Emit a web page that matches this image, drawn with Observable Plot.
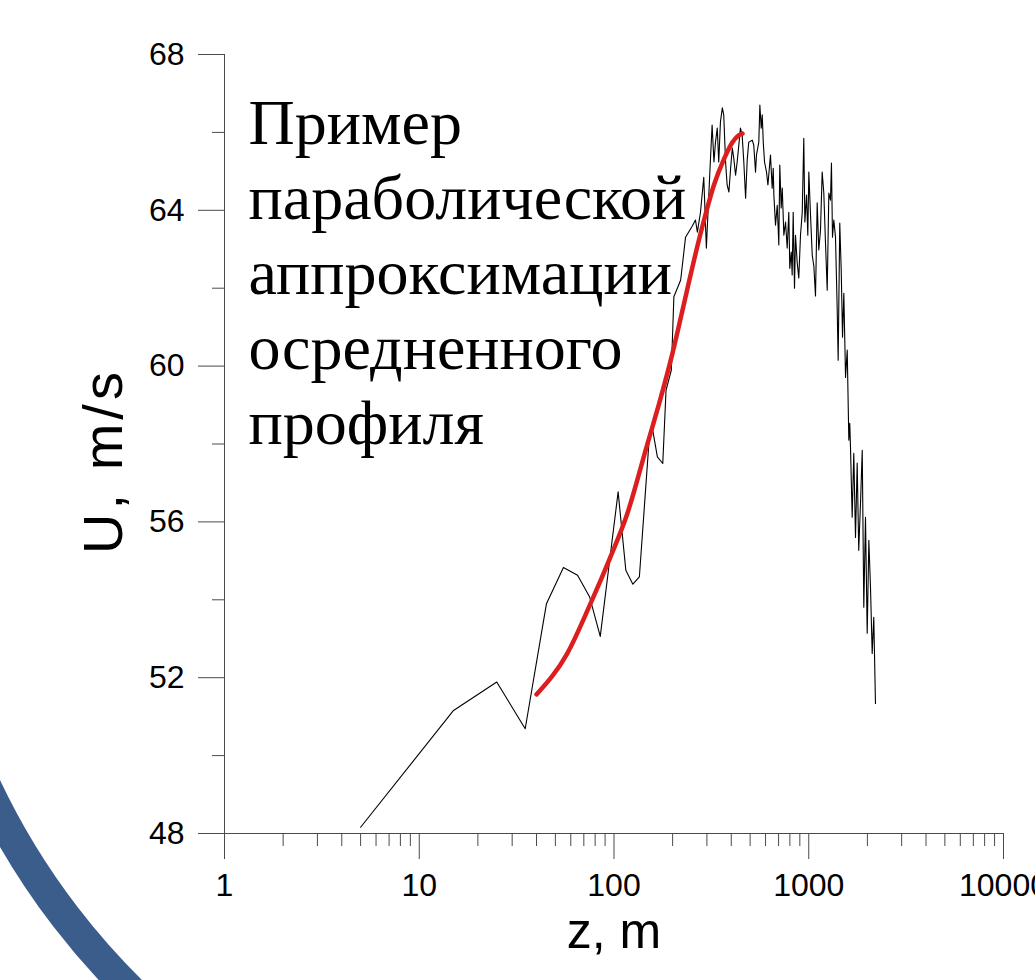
<!DOCTYPE html>
<html>
<head>
<meta charset="utf-8">
<script src="https://cdn.jsdelivr.net/npm/d3@7"></script>
<script src="https://cdn.jsdelivr.net/npm/@observablehq/plot@0.6"></script>
<style>
  html, body { margin: 0; padding: 0; background: #fff; }
  #chart { width: 1035px; height: 980px; overflow: hidden; }
</style>
</head>
<body>
<div id="chart"></div>
<script>
// Averaged wind-speed profile: height z (m) and speed U (m/s)
const zProfile = [
  5, 15, 25, 35, 45, 55, 65, 75, 85, 105,
  115, 125, 135, 151, 157, 167, 178, 185, 197, 203,
  220, 233, 252, 262, 268, 278, 289, 298, 313, 319,
  326, 332, 339, 345, 352, 360, 366, 374, 381, 389,
  397, 405, 412, 421, 429, 446, 455, 464, 474, 483,
  492, 513, 522, 533, 539, 554, 561, 570, 577, 584,
  593, 607, 617, 636, 649, 657, 662, 675, 689, 702,
  710, 722, 731, 745, 760, 775, 790, 799, 813, 822,
  832, 845, 855, 872, 889, 907, 926, 943, 955, 974,
  989, 1001, 1021, 1042, 1062, 1083, 1105, 1126, 1149, 1172,
  1195, 1219, 1244, 1268, 1293, 1308, 1324, 1345, 1372, 1399,
  1416, 1443, 1468, 1491, 1514, 1545, 1576, 1606, 1624, 1638,
  1671, 1703, 1738, 1773, 1806, 1844, 1882, 1917, 1956, 1996,
  2035, 2075, 2117, 2157, 2201
];
const uProfile = [
  48.16, 51.16, 51.89, 50.69, 53.90, 54.83, 54.63, 54.07, 53.06, 56.77,
  54.76, 54.40, 54.59, 58.01, 58.44, 57.67, 57.50, 59.38, 59.90, 61.78,
  62.21, 63.31, 63.59, 63.75, 63.44, 63.95, 64.85, 63.03, 65.34, 66.19,
  65.24, 65.75, 66.11, 65.24, 66.27, 66.63, 66.45, 65.24, 64.65, 64.47,
  65.08, 65.60, 65.34, 64.90, 65.24, 66.11, 65.93, 65.24, 64.31, 65.29,
  65.75, 65.80, 65.67, 64.98, 65.42, 65.75, 66.70, 66.11, 66.45, 65.75,
  65.24, 64.98, 64.65, 65.42, 64.57, 65.08, 64.39, 63.62, 64.13, 63.11,
  65.16, 64.06, 64.57, 63.36, 63.70, 63.03, 63.95, 62.51, 62.93, 62.34,
  63.95, 62.00, 63.36, 62.67, 62.26, 63.36, 63.95, 65.85, 63.70, 64.39,
  63.36, 64.98, 63.88, 62.85, 62.57, 61.80, 64.19, 62.98, 63.49, 64.98,
  64.44, 63.16, 61.95, 64.44, 64.26, 65.21, 63.31, 63.75, 63.31, 61.51,
  60.15, 63.67, 62.46, 60.74, 61.87, 59.71, 60.41, 58.10, 58.53, 57.92,
  56.12, 57.76, 55.60, 57.51, 55.27, 56.48, 57.84, 53.81, 56.12, 53.14,
  55.53, 54.32, 52.62, 53.55, 51.34
];

// Parabolic approximation of the averaged profile
const zFit = [40, 57.5, 75.7, 95.9, 117, 148, 173, 199, 235, 257, 290, 326, 366, 405, 438, 457];
const uFit = [51.57, 52.62, 53.90, 55.10, 56.21, 57.98, 59.15, 60.30, 61.86, 62.70, 63.75, 64.65, 65.30, 65.74, 65.93, 65.97];

// Axis ticks
const xMajor = [1, 10, 100, 1000, 10000];
const xMinor = [2, 3, 4, 5, 6, 7, 8, 9, 20, 30, 40, 50, 60, 70, 80, 90,
                200, 300, 400, 500, 600, 700, 800, 900, 2000, 3000, 4000, 5000, 6000, 7000, 8000, 9000];
const yMajor = [48, 52, 56, 60, 64, 68];
const yMinor = [50, 54, 58, 62, 66];

const noteLines = ["Пример", "параболической", "аппроксимации", "осредненного", "профиля"];

const profile = zProfile.map((z, i) => ({z, u: uProfile[i]}));
const fit = zFit.map((z, i) => ({z, u: uFit[i]}));

const sans = "'Liberation Sans', Arial, sans-serif";
const serif = "'Liberation Serif', 'Times New Roman', serif";
const axisColor = "#4a4a4a";

const chart = Plot.plot({
  width: 1035,
  height: 980,
  marginLeft: 224,
  marginRight: 32,
  marginTop: 54,
  marginBottom: 147,
  style: {fontFamily: sans, background: "#fff", color: "#000", overflow: "hidden"},
  x: {type: "log", domain: [1, 10000]},
  y: {domain: [48, 68]},
  marks: [
    // axis lines
    Plot.ruleX([1], {stroke: axisColor}),
    Plot.ruleY([48], {stroke: axisColor}),
    // ticks and labels
    Plot.axisX({ticks: xMajor, tickSize: 26, tickPadding: 14, fontSize: 32, stroke: axisColor,
      tickFormat: d => String(d), label: null}),
    Plot.axisX({ticks: xMinor, tickSize: 13, stroke: axisColor, tickFormat: () => "", label: null}),
    Plot.axisY({ticks: yMajor, tickSize: 26, tickPadding: 14, fontSize: 32, stroke: axisColor,
      tickFormat: d => String(d), label: null}),
    Plot.axisY({ticks: yMinor, tickSize: 12, stroke: axisColor, tickFormat: () => "", label: null}),
    // averaged profile
    Plot.line(profile, {x: "z", y: "u", stroke: "#000", strokeWidth: 1.1}),
    // parabolic fit
    Plot.line(fit, {x: "z", y: "u", stroke: "#dc1e1e", strokeWidth: 4.5, curve: "monotone-x"}),
    // axis titles
    Plot.text(["z, m"], {text: d => d, frameAnchor: "bottom", dy: 114, fontSize: 50, fontFamily: sans}),
    Plot.text(["U, m/s"], {text: d => d, frameAnchor: "left", textAnchor: "middle", rotate: -90,
      dx: -120, dy: 17, fontSize: 56, fontFamily: sans}),
    // annotation
    Plot.text([noteLines.join("\n")], {text: d => d, frameAnchor: "top-left", textAnchor: "start",
      lineAnchor: "top", dx: 24, dy: 36, fontSize: 64, lineHeight: 1.172, fontFamily: serif, fill: "#000"})
  ]
});

// the vertical axis title is set with a little extra tracking
d3.select(chart).selectAll("text")
  .filter(function() { return this.textContent === "U, m/s"; })
  .style("letter-spacing", "4px");

// slide ornament: a broad blue arc in the lower-left corner
d3.select(chart).insert("path", "g")
  .attr("d", "M -39.4 725.8 A 715 715 0 0 0 222.4 1067")
  .attr("fill", "none")
  .attr("stroke", "#3a5d8c")
  .attr("stroke-width", 31);

document.getElementById("chart").appendChild(chart);
</script>
</body>
</html>
